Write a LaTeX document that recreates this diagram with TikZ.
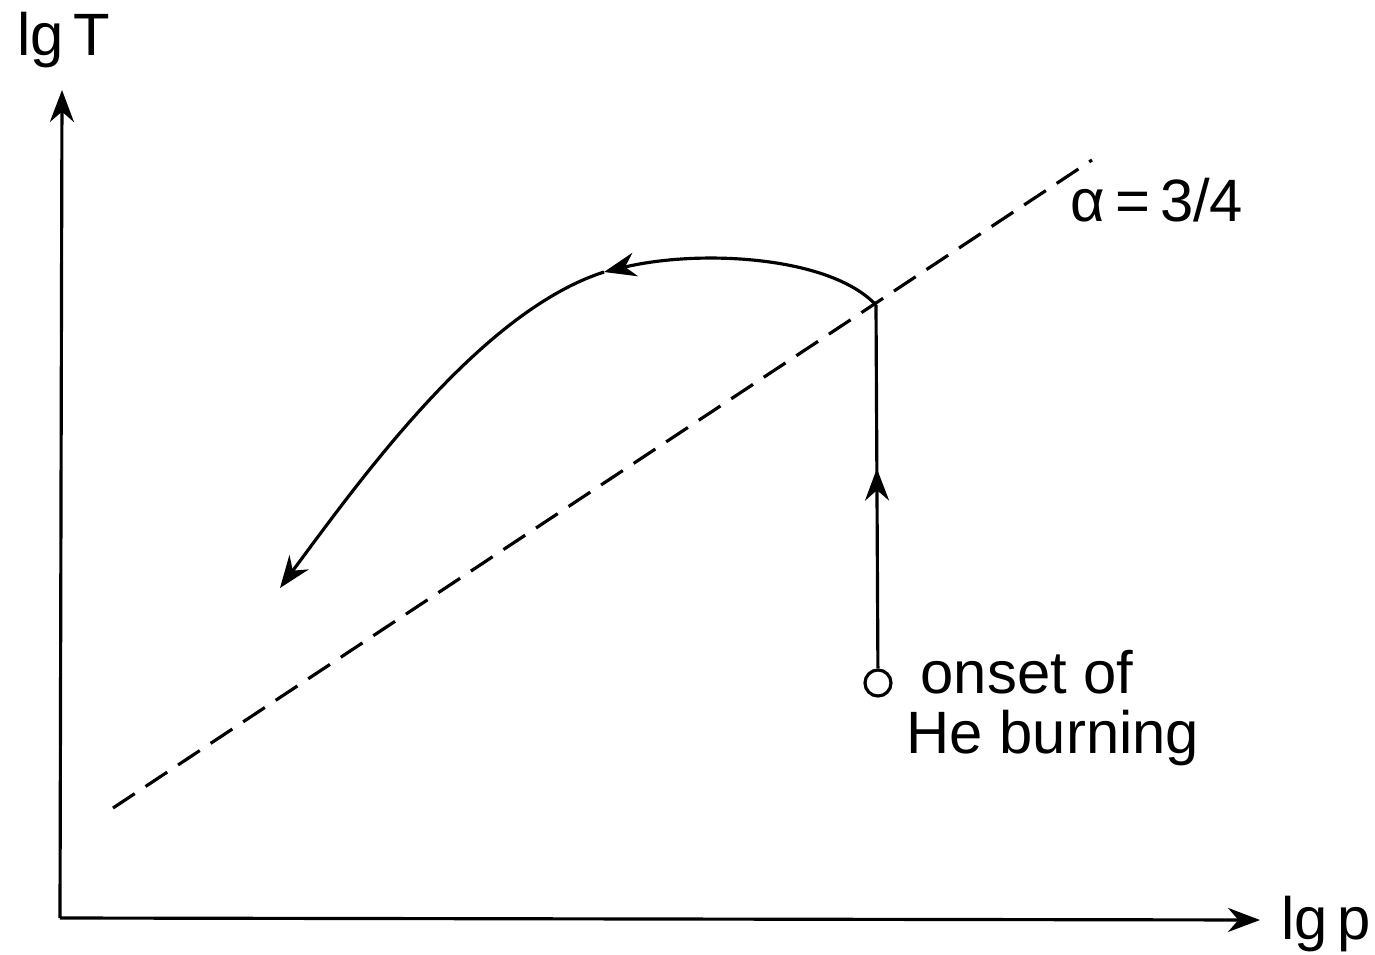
\documentclass[tikz,border=0pt]{standalone}
\usepackage{fontspec}
\setmainfont{Liberation Sans}
\usetikzlibrary{arrows.meta,decorations.markings}
\tikzset{
  axis/.style={line width=0.9pt, -{Stealth[length=3.2mm,width=2.4mm]}},
  path/.style={line width=0.9pt},
  adiabat/.style={line width=0.9pt, dash pattern=on 2.6mm off 1.3mm},
  lbl/.style={font=\fontsize{17}{22}\selectfont, inner sep=0pt, align=left},
  midarrow/.style={postaction={decorate, decoration={markings,
      mark=at position #1 with {\arrow{Stealth[length=3.2mm,width=2.4mm]}}}}}
}
\begin{document}
\begin{tikzpicture}[x=0.01cm,y=-0.01cm]
  \useasboundingbox (0,0) rectangle (1375,954);
  % axes
  \coordinate (origin) at (60,918);
  \coordinate (ytip) at (62,90);
  \coordinate (xtip) at (1260,920);
  \draw[axis] (origin) -- (ytip);
  \draw[axis] (origin) -- (xtip);
  \node[lbl] (ylabel) at (64,40) {lg\,T};
  \node[lbl] (xlabel) at (1326,924) {lg\,p};

  % line of slope 3/4
  \coordinate (dashstart) at (113,808);
  \coordinate (dashend) at (1092,160);
  \draw[adiabat] (dashstart) -- (dashend);
  \node[lbl] (alpha) at (1157,200) {α\,=\,3/4};

  % track
  \node[draw, circle, line width=0.9pt, minimum size=0.26cm, inner sep=0pt] (onset) at (878,683) {};
  \coordinate (turn) at (876,305);
  \coordinate (left) at (604,272);
  \coordinate (tail) at (280,588);
  \draw[path, midarrow=0.55] (onset) -- (turn);
  \draw[path, -{Stealth[length=3.2mm,width=2.4mm]}] (turn) .. controls (830,256) and (700,249) .. (left);
  \draw[path, -{Stealth[length=3.2mm,width=2.4mm]}] (left) .. controls (480,312) and (360,480) .. (tail);
  \node[lbl, anchor=west] (onsetlabel) at (920,672) {onset of};
  \node[lbl, anchor=west] (helabel) at (906,738) {He burning};
\end{tikzpicture}
\end{document}
